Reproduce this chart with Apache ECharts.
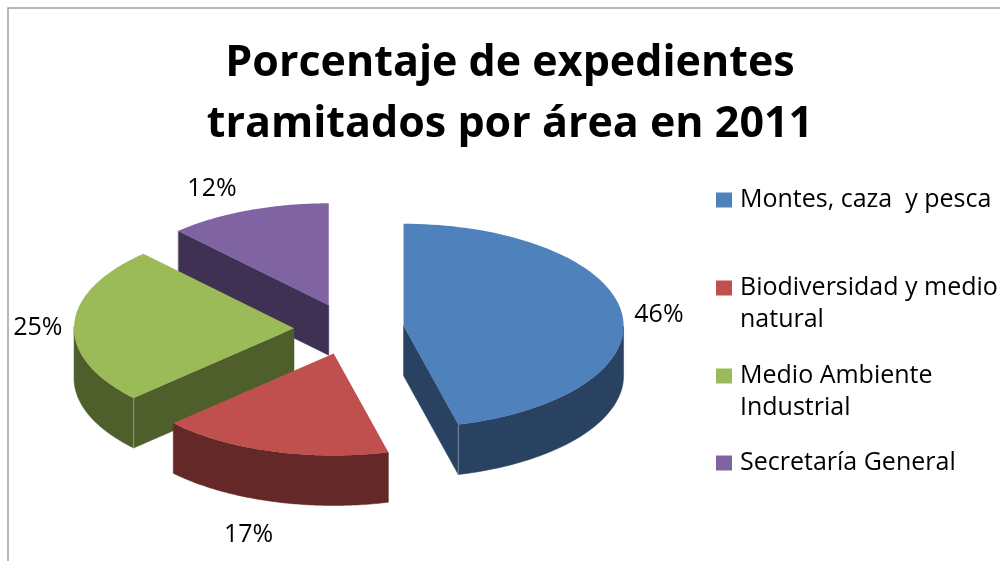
<!DOCTYPE html>
<html><head><meta charset="utf-8">
<style>html,body{margin:0;padding:0;background:#fff;overflow:hidden}#c{width:1000px;height:561px}</style>
<script src="https://cdn.jsdelivr.net/npm/echarts@6/dist/echarts.min.js"></script>
</head><body><div id="c"></div>
<script>
// Data
const categories = ['Montes, caza  y pesca', 'Biodiversidad y medio natural', 'Medio Ambiente Industrial', 'Secretaría General'];
const legendLines = { 'Biodiversidad y medio natural': '\nBiodiversidad y medio\nnatural', 'Medio Ambiente Industrial': '\nMedio Ambiente\nIndustrial' };
const values = [46, 17, 25, 12];
const percentLabels = ['46%', '17%', '25%', '12%'];
const topColors = ['#4F81BD', '#C0504D', '#9BBB59', '#8064A2'];
const sideColors = ['#2A4262', '#632827', '#4F5F2B', '#3F3154'];

// Layout of the tilted pie
const CX = 349, CY = 329, RX = 220, RY = 102, DEPTH = 50, EXPLODE = 0.25;
const drawZ = [2, 4, 3, 1];
const labelNudge = [[0, 4], [-4, 2], [1, 3], [-22, -5]];
const legendTops = [184, 240, 328, 447];
const FONT = '"Open Sans", sans-serif';

const total = values.reduce((a, b) => a + b, 0);
function spanOf(i) {
  const before = values.slice(0, i).reduce((a, b) => a + b, 0);
  return [before / total * 2 * Math.PI, (before + values[i]) / total * 2 * Math.PI];
}
function pt(ox, oy, a, f, dy) {
  return [ox + RX * f * Math.sin(a), oy - RY * f * Math.cos(a) + (dy || 0)];
}
function renderSlice(i) {
  const [a0, a1] = spanOf(i);
  const mid = (a0 + a1) / 2;
  const [ox, oy] = pt(CX, CY, mid, EXPLODE);
  const n = 90;
  const rim = [];
  for (let k = 0; k <= n; k++) rim.push(a0 + (a1 - a0) * k / n);
  const top = [[ox, oy]].concat(rim.map(a => pt(ox, oy, a, 1)));
  const els = [];
  const wall = pts => els.push({ type: 'polygon', shape: { points: pts }, style: { fill: sideColors[i], stroke: sideColors[i], lineWidth: 0.5 }, silent: true });
  const corners = [];
  // flat cut faces that look toward the viewer
  if (Math.sin(a0) < -1e-6) {
    const p = pt(ox, oy, a0, 1);
    wall([[ox, oy], p, [p[0], p[1] + DEPTH], [ox, oy + DEPTH]]);
    corners.push(p);
  }
  if (Math.sin(a1) > 1e-6) {
    const p = pt(ox, oy, a1, 1);
    wall([[ox, oy], p, [p[0], p[1] + DEPTH], [ox, oy + DEPTH]]);
    corners.push(p);
  }
  // outer rim: only the front half of the ellipse shows
  const front = rim.filter(a => Math.cos(a) <= 0.02);
  if (front.length > 1) {
    const upper = front.map(a => pt(ox, oy, a, 1));
    const lower = front.map(a => pt(ox, oy, a, 1, DEPTH)).reverse();
    wall(upper.concat(lower));
  }
  // faint crease where the cut face meets the rim
  corners.forEach(p => {
    if (Math.abs(p[0] - ox) > 1) els.push({ type: 'line', silent: true, shape: { x1: p[0], y1: p[1], x2: p[0], y2: p[1] + DEPTH }, style: { stroke: 'rgba(255,255,255,0.35)', lineWidth: 1 } });
  });
  els.push({ type: 'polygon', shape: { points: top }, style: { fill: topColors[i] }, silent: true });
  // percentage label
  const f = i === 1 ? 1.32 : 1.17;
  const lp = pt(ox, oy, mid, f, i === 1 ? DEPTH : 0);
  els.push({ type: 'text', x: lp[0] + labelNudge[i][0], y: lp[1] + labelNudge[i][1], silent: true,
    style: { text: percentLabels[i], fill: '#000', font: '400 25px ' + FONT, align: 'center', verticalAlign: 'middle' } });
  return { type: 'group', children: els };
}

const series = categories.map((name, i) => ({
  type: 'custom', name, coordinateSystem: 'none', z: drawZ[i], silent: true,
  itemStyle: { color: topColors[i] },
  data: [[values[i]]],
  renderItem: () => renderSlice(i)
}));

const legends = categories.map((name, i) => ({
  data: [name], left: 716, top: legendTops[i], orient: 'vertical', padding: 0, itemWidth: 16, itemHeight: 15,
  icon: 'rect', selectedMode: false,
  formatter: n => legendLines[n] || n,
  textStyle: { color: '#000', fontFamily: FONT, fontSize: 25, lineHeight: 32, padding: [0, 0, 0, 3] }
}));

const chart = echarts.init(document.getElementById('c'), null, { renderer: 'canvas' });
chart.setOption({
  animation: false,
  backgroundColor: '#fff',
  title: {
    text: 'Porcentaje de expedientes\ntramitados por área en 2011',
    left: 505, top: 28, textAlign: 'center',
    textStyle: { color: '#000', fontFamily: FONT, fontWeight: 700, fontSize: 43, lineHeight: 61 }
  },
  legend: legends,
  series,
  graphic: [{ type: 'polyline', silent: true, shape: { points: [[8, 561], [8, 8], [1000, 8]] }, style: { stroke: '#A0A0A0', lineWidth: 1.5, fill: 'none' } }]
});
</script></body></html>
